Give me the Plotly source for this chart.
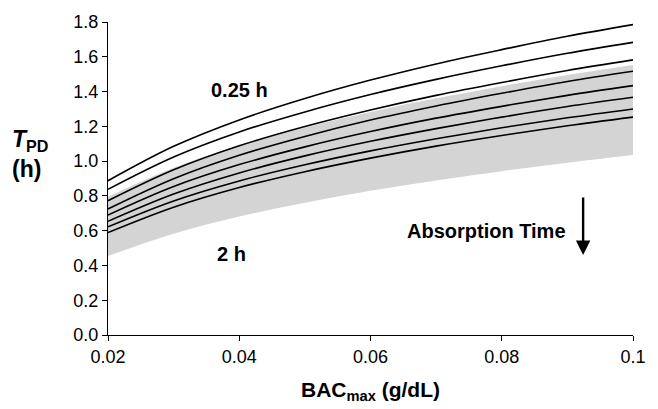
import plotly.graph_objects as go

bac = [0.02, 0.03, 0.04, 0.05, 0.06, 0.07, 0.08, 0.09, 0.1]

# Absorption-time curves (0.25 h at top ... 2 h at bottom)
t_025 = [0.887, 1.085, 1.237, 1.360, 1.466, 1.559, 1.641, 1.718, 1.785]
t_050 = [0.838, 1.024, 1.168, 1.283, 1.383, 1.470, 1.548, 1.620, 1.683]
t_075 = [0.772, 0.950, 1.088, 1.199, 1.294, 1.378, 1.452, 1.521, 1.582]
t_100 = [0.725, 0.899, 1.034, 1.142, 1.236, 1.317, 1.390, 1.458, 1.517]
t_125 = [0.690, 0.854, 0.980, 1.082, 1.170, 1.247, 1.315, 1.378, 1.434]
t_150 = [0.654, 0.811, 0.932, 1.030, 1.114, 1.187, 1.253, 1.314, 1.367]
t_175 = [0.622, 0.771, 0.886, 0.979, 1.059, 1.129, 1.192, 1.249, 1.300]
t_200 = [0.589, 0.735, 0.848, 0.939, 1.017, 1.086, 1.147, 1.203, 1.253]

band_upper = [0.795, 0.962, 1.090, 1.194, 1.283, 1.361, 1.431, 1.495, 1.552]
band_lower = [0.454, 0.582, 0.681, 0.760, 0.829, 0.889, 0.942, 0.991, 1.035]

curves = [t_025, t_050, t_075, t_100, t_125, t_150, t_175, t_200]

y_ticks = [0.0, 0.2, 0.4, 0.6, 0.8, 1.0, 1.2, 1.4, 1.6, 1.8]
x_ticks = [0.02, 0.04, 0.06, 0.08, 0.1]
x_tick_labels = ["0.02", "0.04", "0.06", "0.08", "0.1"]

FONT = "Liberation Sans, Arial, sans-serif"

fig = go.Figure()

fig.add_trace(go.Scatter(x=bac, y=band_lower, mode="lines", line=dict(width=0, shape="spline"),
                         showlegend=False, hoverinfo="skip"))
fig.add_trace(go.Scatter(x=bac, y=band_upper, mode="lines", line=dict(width=0, shape="spline"),
                         fill="tonexty", fillcolor="#d4d4d4", showlegend=False, hoverinfo="skip"))

for c in curves:
    fig.add_trace(go.Scatter(x=bac, y=c, mode="lines",
                             line=dict(color="black", width=1.6, shape="spline"),
                             showlegend=False))

fig.update_xaxes(range=[0.02, 0.1], tickvals=x_ticks, ticktext=x_tick_labels,
                 showline=True, linecolor="black", linewidth=1.2, ticks="outside",
                 ticklen=5, tickcolor="black", showgrid=False, zeroline=False,
                 tickfont=dict(family=FONT, size=18, color="black"),
                 title=dict(text="<b>BAC<sub>max</sub> (g/dL)</b>",
                            font=dict(family=FONT, size=21, color="black"), standoff=16))
fig.update_yaxes(range=[0, 1.8], tickvals=y_ticks, tickformat=".1f",
                 showline=True, linecolor="black", linewidth=1.2, ticks="outside",
                 ticklen=5, tickcolor="black", showgrid=False, zeroline=False,
                 tickfont=dict(family=FONT, size=18, color="black"))

annos = [
    dict(x=0.04, y=1.41, text="<b>0.25 h</b>"),
    dict(x=0.0388, y=0.468, text="<b>2 h</b>"),
    dict(x=0.0776, y=0.60, text="<b>Absorption Time</b>"),
]
for a in annos:
    fig.add_annotation(x=a["x"], y=a["y"], text=a["text"], showarrow=False,
                       font=dict(family=FONT, size=20, color="black"))

fig.add_annotation(x=0.0924, y=0.46, ax=0.0924, ay=0.80, xref="x", yref="y",
                   axref="x", ayref="y", text="", showarrow=True,
                   arrowhead=2, arrowsize=1.2, arrowwidth=2.4, arrowcolor="black")

fig.add_annotation(xref="paper", yref="paper", x=-0.148, y=0.578, xanchor="center",
                   yanchor="middle", showarrow=False, align="left",
                   text="<b><i>T</i></b><b><sub>PD</sub></b><br><b>(h)</b>",
                   font=dict(family=FONT, size=23, color="black"))

fig.update_layout(width=658, height=409, margin=dict(l=108, r=22, t=20, b=69),
                  plot_bgcolor="white", paper_bgcolor="white")

fig.write_html("out.html")
